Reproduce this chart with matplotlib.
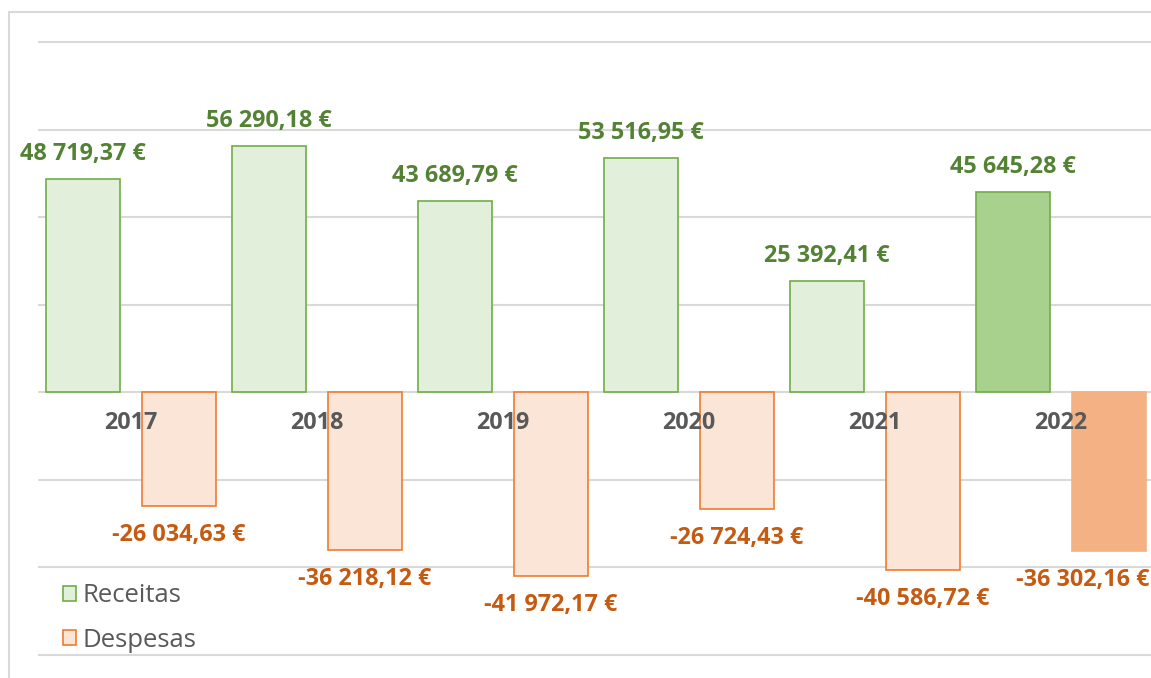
import matplotlib
matplotlib.use("Agg")
import matplotlib.pyplot as plt
from matplotlib.patches import Rectangle, Patch

years = ["2017", "2018", "2019", "2020", "2021", "2022"]
receitas = [48719.37, 56290.18, 43689.79, 53516.95, 25392.41, 45645.28]
despesas = [-26034.63, -36218.12, -41972.17, -26724.43, -40586.72, -36302.16]

def fmt(v):
    s = f"{abs(v):,.2f}".replace(",", " ").replace(".", ",")
    return ("-" if v < 0 else "") + s + " €"

FONT = "Open Sans"
W, H = 1151, 678
fig = plt.figure(figsize=(W / 100, H / 100), dpi=100)

# y mapping: zero at px 392, 87.5 px per 20000
ppu = 87.5 / 20000
ymax, ymin = 81000, -61000
top_px = 392 - ymax * ppu
bot_px = 392 - ymin * ppu
left_px, right_px = 38, 38 + 6 * 186
ax = fig.add_axes([left_px / W, 1 - bot_px / H, (right_px - left_px) / W, (bot_px - top_px) / H])
ax.set_xlim(-0.5, 5.5)
ax.set_ylim(ymin, ymax)
for s in ax.spines.values():
    s.set_visible(False)
ax.set_xticks([])
ax.set_yticks(range(-60000, 80001, 20000))
ax.tick_params(axis="y", length=0, labelleft=False)
ax.yaxis.grid(True, color="#D9D9D9", lw=1.5)
ax.set_axisbelow(True)

off = 0.258
bw = 0.398
n = len(years)
g_fill = ["#E2EFDA"] * (n - 1) + ["#A9D18E"]
o_fill = ["#FBE5D6"] * (n - 1) + ["#F4B183"]
o_edge = ["#ED7D31"] * (n - 1) + ["#F4B183"]
x = list(range(n))
ax.bar([i - off for i in x], receitas, width=bw, color=g_fill, edgecolor="#70AD47", lw=1.2, zorder=3)
ax.bar([i + off for i in x], despesas, width=bw, color=o_fill, edgecolor=o_edge, lw=1.2, zorder=3)

LS = 16.8
for i in x:
    ax.annotate(fmt(receitas[i]), (i - off, receitas[i]), xytext=(0, 25), textcoords="offset pixels",
                ha="center", va="center", fontsize=LS, fontweight="bold", color="#548235",
                family=FONT, zorder=5)
    if i == n - 1:
        fig.text(1 - 2 / W, 1 - (392 - despesas[i] * ppu + 29) / H, fmt(despesas[i]),
                 ha="right", va="center", fontsize=LS, fontweight="bold", color="#C55A11",
                 family=FONT, zorder=5)
    else:
        ax.annotate(fmt(despesas[i]), (i + off, despesas[i]), xytext=(0, -29), textcoords="offset pixels",
                    ha="center", va="center", fontsize=LS, fontweight="bold", color="#C55A11",
                    family=FONT, zorder=5)
    ax.annotate(years[i], (i, 0), xytext=(0, -31), textcoords="offset pixels",
                ha="center", va="center", fontsize=16.8, fontweight="bold", color="#595959",
                family=FONT, zorder=5)

handles = [Patch(facecolor="#E2EFDA", edgecolor="#70AD47", lw=1.2),
           Patch(facecolor="#FBE5D6", edgecolor="#ED7D31", lw=1.2)]
leg = fig.legend(handles, ["Receitas", "Despesas"], loc="center left",
                 bbox_to_anchor=(63 / W, 1 - 618 / H), frameon=False,
                 prop={"family": FONT, "size": 18.5}, handlelength=0.52, handleheight=0.52,
                 handletextpad=0.25, labelspacing=0.75, borderpad=0, borderaxespad=0)
for t in leg.get_texts():
    t.set_color("#595959")

fig.patches.append(Rectangle((9 / W, -0.1), 1.2, 1 - 12 / H + 0.1, transform=fig.transFigure,
                             fill=False, edgecolor="#D9D9D9", lw=1.5, zorder=0))

fig.savefig("out.png", dpi=100)
